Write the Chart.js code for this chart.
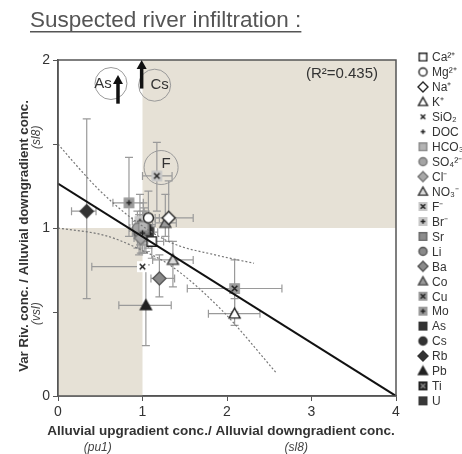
<!DOCTYPE html>
<html>
<head>
<meta charset="utf-8">
<script src="https://cdn.jsdelivr.net/npm/chart.js@4.4.1/dist/chart.umd.min.js"></script>
<style>
  html, body { margin: 0; padding: 0; background: #fff; }
  #wrap { width: 462px; height: 454px; position: relative; }
</style>
</head>
<body>
<div id="wrap"><canvas id="myChart"></canvas></div>
<script>
// Ratios per element: upgradient/downgradient (x) vs river/downgradient (y)
const ions   = ['Ca²⁺', 'Mg²⁺', 'Na⁺', 'K⁺', 'SiO₂', 'DOC', 'HCO₃⁻', 'SO₄²⁻', 'Cl⁻', 'NO₃⁻', 'F⁻', 'Br⁻',
                'Sr', 'Li', 'Ba', 'Co', 'Cu', 'Mo', 'As', 'Cs', 'Rb', 'Pb', 'Ti', 'U'];
const xVals  = [1.11, 1.07, 1.31, 2.09, 1.00, 1.00, 1.01, 0.94, 0.98, 1.36, 1.17, 0.97,
                1.02, 0.96, 1.20, 1.27, 2.09, 0.84, 0.71, 0.99, 0.34, 1.04, 1.04, 1.07];
const yVals  = [0.92, 1.06, 1.06, 0.49, 0.77, 0.97, 1.01, 1.00, 0.94, 0.81, 1.31, 1.04,
                0.99, 0.97, 0.70, 1.03, 0.64, 1.15, 2.30, 2.30, 1.10, 0.54, 0.99, 0.975];
// error bar extents (null = none)
const xLow   = [1.00, 0.98, 1.15, 1.78, 0.40, 0.90, 0.92, 0.85, 0.90, 1.12, 1.00, 0.88,
                0.95, 0.88, 1.10, 1.15, 1.53, 0.65, null, null, 0.16, 0.72, 0.96, 0.98];
const xHigh  = [1.25, 1.20, 1.60, 2.39, 1.00, 1.10, 1.12, 1.05, 1.08, 1.60, 1.35, 1.08,
                1.12, 1.06, 1.38, 1.40, 2.65, 1.01, null, null, 0.45, 1.34, 1.14, 1.18];
const yLow   = [0.82, 0.95, 0.92, 0.42, null, 0.85, 0.90, 0.88, 0.85, 0.65, 1.10, 0.90,
                0.85, 0.84, 0.59, 0.95, 0.50, 0.95, null, null, 0.58, 0.30, 0.86, 0.88];
const yHigh  = [1.02, 1.22, 1.28, 0.58, null, 1.10, 1.15, 1.10, 1.02, 0.92, 1.51, 1.20,
                1.12, 1.08, 0.84, 1.20, 0.81, 1.42, null, null, 1.65, 0.78, 1.10, 1.08];
// marker: shape, fill, stroke, overlay
const shapes = ['square', 'circle', 'diamond', 'triangle', 'x', 'plus', 'square', 'circle', 'diamond', 'triangle', 'square', 'square',
                'square', 'circle', 'diamond', 'triangle', 'square', 'square', 'square', 'circle', 'diamond', 'triangle', 'square', 'square'];
const fills  = ['#fff', '#fff', '#fff', '#fff', '#fff', null, '#b4b4b4', '#a4a4a4', '#a8a8a8', '#dadada', '#c8c8c8', '#c8c8c8',
                '#8c8c8c', '#8a8a8a', '#8a8a8a', '#9a9a9a', '#9c9c9c', '#9c9c9c', '#333', '#333', '#333', '#222', '#222', '#383838'];
const strokes = ['#222', '#222', '#222', '#222', '#222', '#222', '#8a8a8a', '#777', '#777', '#333', '#c8c8c8', '#c8c8c8',
                 '#6a6a6a', '#555', '#555', '#444', '#9c9c9c', '#9c9c9c', '#333', '#333', '#333', '#222', '#222', '#383838'];
const overlays = [null, null, null, null, null, null, null, null, null, null, 'x', 'plus',
                  null, null, null, null, 'x', 'plus', null, null, null, null, 'x', null];

// regression line and confidence curves
const fitX   = [0, 4];
const fitY   = [1.265, 0.0];
const upperX = [0, 0.17, 0.5, 0.92, 1.35, 1.86, 2.32];
const upperY = [1.50, 1.40, 1.22, 1.04, 0.91, 0.84, 0.79];
const lowerX = [0, 0.56, 0.94, 1.35, 1.94, 2.58];
const lowerY = [1.00, 0.955, 0.88, 0.77, 0.51, 0.14];
const r2Label = '(R²=0.435)';

// shaded quadrants: [xMin, xMax, yMin, yMax]
const zones = [[1, 4, 1, 2], [0, 1, 0, 1]];

function makeMarker(i, s) {
  const pad = 2, c = document.createElement('canvas');
  c.width = c.height = s + pad * 2;
  const g = c.getContext('2d'), m = c.width / 2, h = s / 2;
  g.lineWidth = 1.4;
  g.strokeStyle = strokes[i];
  g.fillStyle = fills[i] || '#fff';
  const shp = shapes[i];
  g.beginPath();
  if (shp === 'square') { g.rect(m - h * 0.85, m - h * 0.85, h * 1.7, h * 1.7); }
  else if (shp === 'circle') { g.arc(m, m, h * 0.9, 0, Math.PI * 2); }
  else if (shp === 'diamond') { g.moveTo(m, m - h); g.lineTo(m + h, m); g.lineTo(m, m + h); g.lineTo(m - h, m); g.closePath(); }
  else if (shp === 'triangle') { g.moveTo(m, m - h); g.lineTo(m + h, m + h * 0.8); g.lineTo(m - h, m + h * 0.8); g.closePath(); }
  if (shp === 'x') {
    g.fillStyle = '#fff'; g.fillRect(m - h, m - h, s, s);
  } else if (shp !== 'plus') { g.fill(); g.stroke(); }
  const ov = shp === 'x' ? 'x' : shp === 'plus' ? 'plus' : overlays[i];
  if (ov) {
    const a = h * 0.5;
    g.beginPath();
    g.strokeStyle = i === 22 ? '#888' : '#222';
    g.lineWidth = 1.5;
    if (ov === 'x') { g.moveTo(m - a, m - a); g.lineTo(m + a, m + a); g.moveTo(m + a, m - a); g.lineTo(m - a, m + a); }
    else { g.moveTo(m - a, m); g.lineTo(m + a, m); g.moveTo(m, m - a); g.lineTo(m, m + a); }
    g.stroke();
  }
  return c;
}

const bigMarks = ions.map((_, i) => makeMarker(i, shapes[i] === 'diamond' ? 13 : 11));
const smallMarks = ions.map((_, i) => makeMarker(i, shapes[i] === 'diamond' ? 10 : 9));

const ionSets = ions.map((name, i) => ({
  label: name,
  data: [{ x: xVals[i], y: yVals[i] }],
  pointStyle: bigMarks[i],
  clip: 0,
  order: 2
}));

const lineSets = [
  { label: 'fit', data: fitX.map((x, i) => ({ x, y: fitY[i] })), showLine: true, borderColor: '#111',
    borderWidth: 2, pointRadius: 0, order: 0 },
  { label: 'upper', data: upperX.map((x, i) => ({ x, y: upperY[i] })), showLine: true, borderColor: '#777',
    borderWidth: 1.2, borderDash: [2, 2], pointRadius: 0, cubicInterpolationMode: 'monotone', order: 1 },
  { label: 'lower', data: lowerX.map((x, i) => ({ x, y: lowerY[i] })), showLine: true, borderColor: '#777',
    borderWidth: 1.2, borderDash: [2, 2], pointRadius: 0, cubicInterpolationMode: 'monotone', order: 1 }
];

const decor = {
  id: 'decor',
  beforeDatasetsDraw(chart) {
    const { ctx, scales: { x, y } } = chart;
    ctx.save();
    ctx.fillStyle = 'rgb(230,225,214)';
    zones.forEach(z => {
      const x0 = x.getPixelForValue(z[0]), x1 = x.getPixelForValue(z[1]);
      const y0 = y.getPixelForValue(z[3]), y1 = y.getPixelForValue(z[2]);
      ctx.fillRect(x0, y0, x1 - x0, y1 - y0);
    });
    // error bars
    ctx.strokeStyle = '#9a9a9a';
    ctx.lineWidth = 1.2;
    ions.forEach((_, i) => {
      const px = x.getPixelForValue(xVals[i]), py = y.getPixelForValue(yVals[i]);
      ctx.beginPath();
      if (xLow[i] !== null) {
        const l = x.getPixelForValue(xLow[i]), r = x.getPixelForValue(xHigh[i]);
        ctx.moveTo(l, py); ctx.lineTo(r, py);
        ctx.moveTo(l, py - 4); ctx.lineTo(l, py + 4);
        ctx.moveTo(r, py - 4); ctx.lineTo(r, py + 4);
      }
      if (yLow[i] !== null) {
        const b = y.getPixelForValue(yLow[i]), t = y.getPixelForValue(yHigh[i]);
        ctx.moveTo(px, b); ctx.lineTo(px, t);
        ctx.moveTo(px - 4, b); ctx.lineTo(px + 4, b);
        ctx.moveTo(px - 4, t); ctx.lineTo(px + 4, t);
      }
      ctx.stroke();
    });
    ctx.restore();
  },
  afterDraw(chart) {
    const { ctx, chartArea: a, scales: { x, y } } = chart;
    ctx.save();
    // frame
    ctx.strokeStyle = '#555';
    ctx.lineWidth = 1.5;
    ctx.strokeRect(a.left, a.top, a.right - a.left, a.bottom - a.top);

    // circled labels and off-scale arrows
    const ring = (cx, cy, r) => {
      ctx.beginPath(); ctx.strokeStyle = '#9a9a9a'; ctx.lineWidth = 1;
      ctx.arc(cx, cy, r, 0, Math.PI * 2); ctx.stroke();
    };
    const arrow = (px, y0, y1) => {
      ctx.beginPath(); ctx.strokeStyle = '#111'; ctx.lineWidth = 3.5;
      ctx.moveTo(px, y0); ctx.lineTo(px, y1 + 6); ctx.stroke();
      ctx.beginPath(); ctx.fillStyle = '#111';
      ctx.moveTo(px, y1); ctx.lineTo(px + 5, y1 + 9); ctx.lineTo(px - 5, y1 + 9); ctx.closePath(); ctx.fill();
    };
    ctx.font = '15px "Liberation Sans", Arial, sans-serif';
    ctx.textAlign = 'center';
    ctx.textBaseline = 'middle';
    const asX = x.getPixelForValue(xVals[18]), csX = x.getPixelForValue(xVals[19]);
    ring(asX - 7, y.getPixelForValue(1.86), 16);
    ctx.fillStyle = '#333';
    ctx.fillText('As', asX - 15, y.getPixelForValue(1.86));
    arrow(asX, y.getPixelForValue(1.74), y.getPixelForValue(1.91));
    ring(csX + 13, y.getPixelForValue(1.85), 16);
    ctx.fillStyle = '#333';
    ctx.fillText('Cs', csX + 18, y.getPixelForValue(1.85));
    arrow(csX, y.getPixelForValue(1.83), a.top);
    ring(x.getPixelForValue(1.22), y.getPixelForValue(1.36), 17);
    ctx.fillStyle = '#333';
    ctx.fillText('F', x.getPixelForValue(1.28), y.getPixelForValue(1.38));

    ctx.textAlign = 'right';
    ctx.fillText(r2Label, a.right - 18, a.top + 14);

    // title
    ctx.textAlign = 'left';
    ctx.textBaseline = 'alphabetic';
    ctx.fillStyle = '#555';
    ctx.font = '22.5px "Liberation Sans", Arial, sans-serif';
    const title = 'Suspected river infiltration :';
    ctx.fillText(title, 30, 27);
    const tw = ctx.measureText(title).width;
    ctx.fillRect(30, 31, tw, 1.5);

    // axis titles
    ctx.fillStyle = '#333';
    ctx.textAlign = 'center';
    ctx.textBaseline = 'middle';
    ctx.font = 'bold 13.5px "Liberation Sans", Arial, sans-serif';
    ctx.fillText('Alluvial upgradient conc./ Alluvial downgradient conc.', 221, 431);
    ctx.font = 'italic 12px "Liberation Sans", Arial, sans-serif';
    ctx.fillStyle = '#444';
    ctx.fillText('(pu1)', x.getPixelForValue(0.47), 448);
    ctx.fillText('(sl8)', x.getPixelForValue(2.82), 448);

    ctx.save();
    ctx.translate(24, 236);
    ctx.rotate(-Math.PI / 2);
    ctx.fillStyle = '#333';
    ctx.font = 'bold 13.2px "Liberation Sans", Arial, sans-serif';
    ctx.fillText('Var Riv. conc. / Alluvial downgradient conc.', 0, 0);
    ctx.restore();
    ctx.font = 'italic 12px "Liberation Sans", Arial, sans-serif';
    ctx.fillStyle = '#444';
    [['(sl8)', 1.54], ['(vsl)', 0.49]].forEach(([t, v]) => {
      ctx.save();
      ctx.translate(37, y.getPixelForValue(v));
      ctx.rotate(-Math.PI / 2);
      ctx.fillText(t, 0, 0);
      ctx.restore();
    });

    // legend
    ctx.textAlign = 'left';
    ctx.font = '12px "Liberation Sans", Arial, sans-serif';
    ctx.fillStyle = '#333';
    ions.forEach((name, i) => {
      const ly = 57 + i * 14.95;
      const img = smallMarks[i];
      ctx.drawImage(img, 423 - img.width / 2, ly - img.height / 2);
      ctx.fillText(name, 432, ly + 1);
    });
    ctx.restore();
  }
};

const ctx = document.getElementById('myChart').getContext('2d');
const myChart = new Chart(ctx, {
  type: 'scatter',
  data: { datasets: [...lineSets, ...ionSets] },
  options: {
    responsive: true,
    maintainAspectRatio: false,
    animation: false,
    layout: { padding: { left: 34, top: 60, right: 66, bottom: 28 } },
    plugins: { legend: { display: false }, tooltip: { enabled: false } },
    scales: {
      x: {
        type: 'linear', min: 0, max: 4,
        afterFit: s => { s.height = 30; },
        ticks: { stepSize: 1, color: '#333', font: { size: 14, family: '"Liberation Sans", Arial' }, padding: 3 },
        grid: { drawOnChartArea: false, tickLength: 5, color: '#555' },
        border: { color: '#555', width: 1.5 }
      },
      y: {
        type: 'linear', min: 0, max: 2,
        afterFit: s => { s.width = 24; },
        ticks: {
          stepSize: 0.5, color: '#333', font: { size: 14, family: '"Liberation Sans", Arial' }, padding: 3,
          callback: v => Number.isInteger(v) ? v : ''
        },
        grid: { drawOnChartArea: false, tickLength: 5, color: '#555' },
        border: { color: '#555', width: 1.5 }
      }
    }
  },
  plugins: [decor]
});
</script>
</body>
</html>
